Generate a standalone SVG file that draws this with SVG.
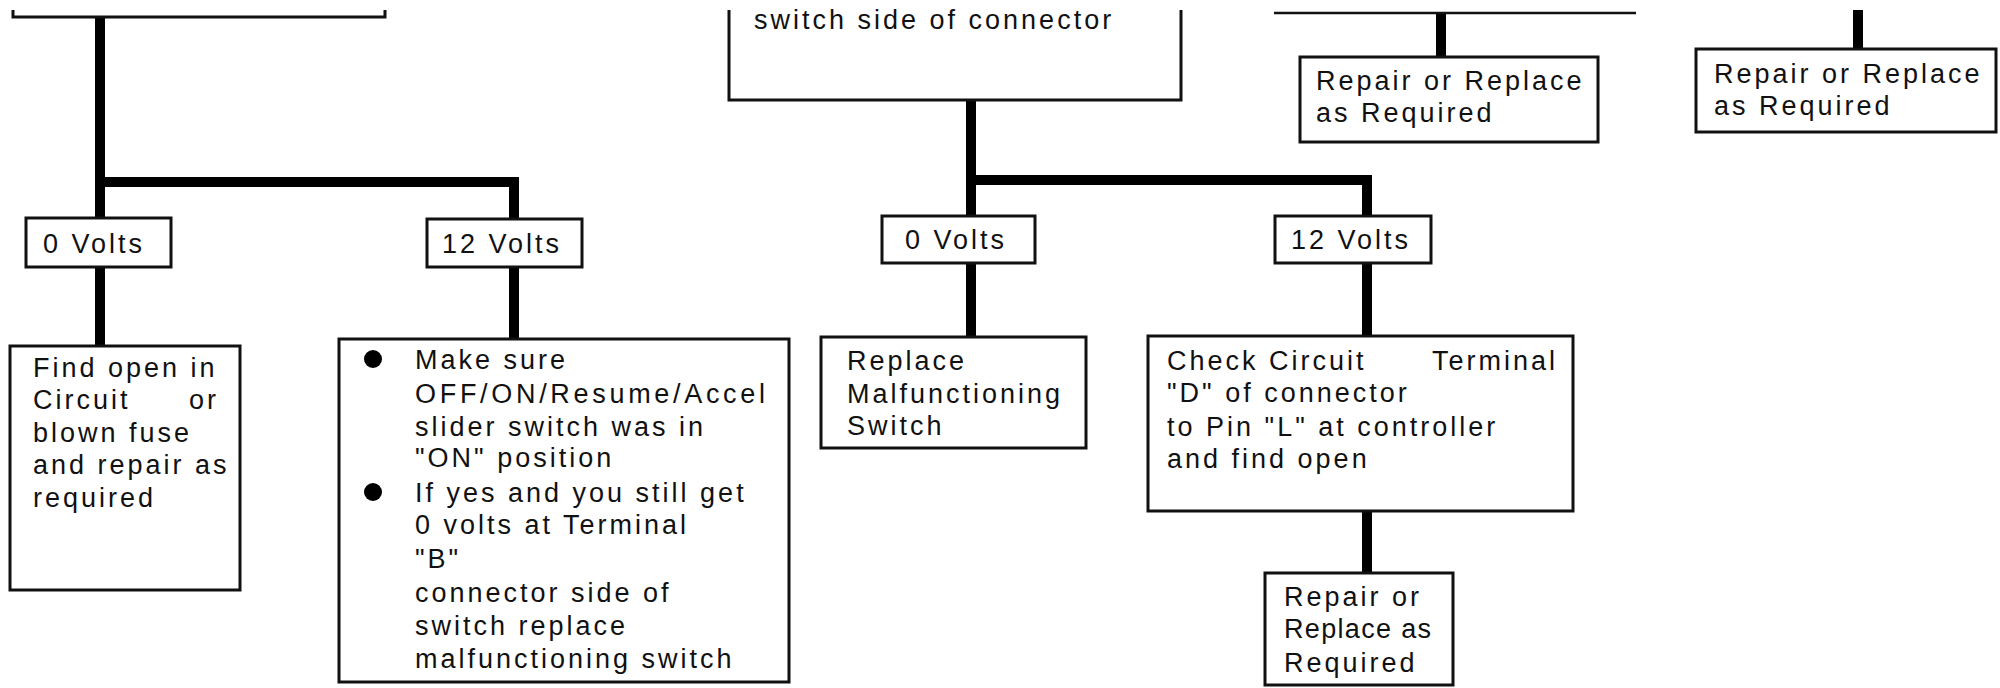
<svg xmlns="http://www.w3.org/2000/svg" width="2000" height="688" viewBox="0 0 2000 688">
<style>
.box{fill:#fff;stroke:#111;stroke-width:3}
.open{fill:none;stroke:#111;stroke-width:3}
.con{fill:none;stroke:#000;stroke-width:10;stroke-linejoin:miter;stroke-linecap:butt}
.thin{fill:none;stroke:#111;stroke-width:2.5}
text{font-family:"Liberation Sans",Arial,sans-serif;font-size:27px;letter-spacing:3px;fill:#111}
.dot{fill:#000}
</style>
<rect width="2000" height="688" fill="#fff"/>
<g id="connectors">
<path class="con" d="M100,17 V219"/>
<path class="con" d="M100,182 H514 V219"/>
<path class="con" d="M100,266 V346"/>
<path class="con" d="M514,267 V339"/>
<path class="con" d="M971,100 V216"/>
<path class="con" d="M971,180 H1367 V216"/>
<path class="con" d="M971,263 V337"/>
<path class="con" d="M1367,263 V336"/>
<path class="con" d="M1367,511 V573"/>
<path class="con" d="M1441,13 V57"/>
<path class="con" d="M1858,10 V49"/>
</g>
<g id="top-left-box">
<path class="open" d="M13,10 V17 H385 V10"/>
</g>
<g id="top-middle-box">
<path class="open" d="M729,10 V100 H1181 V10"/>
<text x="754" y="29">switch side of connector</text>
</g>
<g id="top-right-line">
<path class="thin" d="M1274,13 H1636"/>
</g>
<g id="left-0v">
<rect class="box" x="26" y="218" width="145" height="49"/>
<text x="43" y="253">0 Volts</text>
</g>
<g id="left-12v">
<rect class="box" x="427" y="219" width="155" height="48"/>
<text x="442" y="253">12 Volts</text>
</g>
<g id="find-open">
<rect class="box" x="10" y="346" width="230" height="244"/>
<text x="33" y="377">Find open in</text>
<text x="33" y="409">Circuit<tspan x="189">or</tspan></text>
<text x="33" y="442">blown fuse</text>
<text x="33" y="474">and repair as</text>
<text x="33" y="507">required</text>
</g>
<g id="make-sure">
<rect class="box" x="339" y="339" width="450" height="343"/>
<circle class="dot" cx="373" cy="359" r="9"/>
<circle class="dot" cx="373" cy="492" r="9"/>
<text x="415" y="369">Make sure</text>
<text x="415" y="403" textLength="353" lengthAdjust="spacing">OFF/ON/Resume/Accel</text>
<text x="415" y="436">slider switch was in</text>
<text x="415" y="467">"ON" position</text>
<text x="415" y="502">If yes and you still get</text>
<text x="415" y="534">0 volts at Terminal</text>
<text x="415" y="568">"B"</text>
<text x="415" y="602">connector side of</text>
<text x="415" y="635">switch replace</text>
<text x="415" y="668">malfunctioning switch</text>
</g>
<g id="mid-0v">
<rect class="box" x="882" y="216" width="153" height="47"/>
<text x="905" y="249">0 Volts</text>
</g>
<g id="mid-12v">
<rect class="box" x="1275" y="216" width="156" height="47"/>
<text x="1291" y="249">12 Volts</text>
</g>
<g id="replace-switch">
<rect class="box" x="821" y="337" width="265" height="111"/>
<text x="847" y="370">Replace</text>
<text x="847" y="403">Malfunctioning</text>
<text x="847" y="435">Switch</text>
</g>
<g id="check-circuit">
<rect class="box" x="1148" y="336" width="425" height="175"/>
<text x="1167" y="370">Check Circuit<tspan x="1432">Terminal</tspan></text>
<text x="1167" y="402">"D" of connector</text>
<text x="1167" y="436">to Pin "L" at controller</text>
<text x="1167" y="468">and find open</text>
</g>
<g id="repair-bottom">
<rect class="box" x="1265" y="573" width="188" height="112"/>
<text x="1284" y="606">Repair or</text>
<text x="1284" y="638" textLength="150" lengthAdjust="spacing">Replace as</text>
<text x="1284" y="672">Required</text>
</g>
<g id="repair-top-1">
<rect class="box" x="1300" y="57" width="298" height="85"/>
<text x="1316" y="90">Repair or Replace</text>
<text x="1316" y="122">as Required</text>
</g>
<g id="repair-top-2">
<rect class="box" x="1696" y="49" width="300" height="83"/>
<text x="1714" y="83">Repair or Replace</text>
<text x="1714" y="115">as Required</text>
</g>
</svg>
